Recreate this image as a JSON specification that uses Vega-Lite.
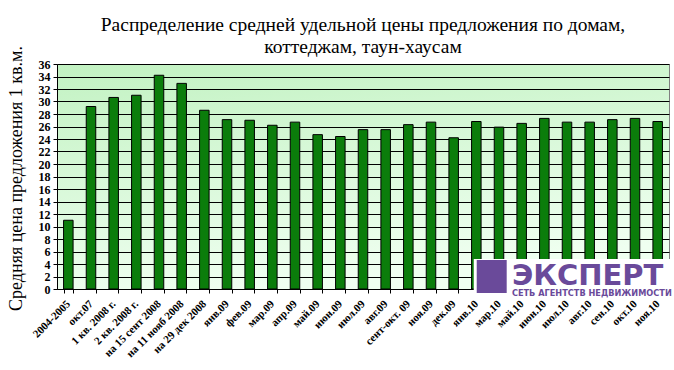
{
  "$schema": "https://vega.github.io/schema/vega-lite/v6.json",
  "width": 612,
  "height": 225,
  "autosize": {"type": "none"},
  "padding": {"left": 57, "top": 64, "right": 5, "bottom": 81},
  "background": "white",
  "title": {
    "text": ["Распределение средней удельной цены предложения по домам,", "коттеджам, таун-хаусам"],
    "font": "Liberation Serif, serif",
    "fontSize": 19.5,
    "fontWeight": "normal",
    "lineHeight": 22,
    "color": "black",
    "anchor": "middle",
    "offset": -12
  },
  "config": {
    "view": {
      "fill": {"gradient": "linear", "x1": 0, "y1": 0, "x2": 0.3, "y2": 1,
        "stops": [{"offset": 0, "color": "#c2f2c2"}, {"offset": 1, "color": "#effff0"}]},
      "stroke": "#808080",
      "strokeWidth": 1
    }
  },
  "resolve": {"axis": {"x": "independent", "y": "independent"}},
  "layer": [
    {
      "data": {
        "values": [
          {"period": "2004-2005", "price": 11.0},
          {"period": "окт.07", "price": 29.2},
          {"period": "1 кв. 2008 г.", "price": 30.65},
          {"period": "2 кв. 2008 г.", "price": 31.0},
          {"period": "на 15 сент 2008", "price": 34.2},
          {"period": "на 11 нояб 2008", "price": 32.9},
          {"period": "на 29 дек 2008", "price": 28.6},
          {"period": "янв.09", "price": 27.1},
          {"period": "фев.09", "price": 27.0},
          {"period": "мар.09", "price": 26.2},
          {"period": "апр.09", "price": 26.7},
          {"period": "май.09", "price": 24.7},
          {"period": "июн.09", "price": 24.4},
          {"period": "июл.09", "price": 25.5},
          {"period": "авг.09", "price": 25.5},
          {"period": "сент-окт. 09", "price": 26.3},
          {"period": "ноя.09", "price": 26.7},
          {"period": "дек.09", "price": 24.2},
          {"period": "янв.10", "price": 26.8},
          {"period": "мар.10", "price": 25.9},
          {"period": "май.10", "price": 26.5},
          {"period": "июн.10", "price": 27.3},
          {"period": "июл.10", "price": 26.7},
          {"period": "авг.10", "price": 26.7},
          {"period": "сен.10", "price": 27.1},
          {"period": "окт.10", "price": 27.3},
          {"period": "ноя.10", "price": 26.8}
        ]
      },
      "mark": {"type": "bar", "color": "#0b7d0b", "stroke": "black", "strokeWidth": 1},
      "encoding": {
        "x": {
          "field": "period", "type": "nominal", "sort": null, "title": null,
          "scale": {"paddingInner": 0.58, "paddingOuter": 0.29},
          "axis": {
            "labelAngle": -45, "labelAlign": "right", "labelBaseline": "middle",
            "labelFont": "Liberation Serif, serif", "labelFontSize": 11, "labelFontWeight": "bold",
            "labelColor": "black", "labelPadding": 9, "labelOverlap": false,
            "tickBand": "extent", "tickColor": "black", "tickSize": 4,
            "domainColor": "black", "grid": false
          }
        },
        "y": {
          "field": "price", "type": "quantitative",
          "title": "Средняя цена предложения 1 кв.м.",
          "scale": {"domain": [0, 36], "nice": false},
          "axis": {
            "values": [0,2,4,6,8,10,12,14,16,18,20,22,24,26,28,30,32,34,36],
            "labelOverlap": false,
            "labelFont": "Liberation Serif, serif", "labelFontSize": 12, "labelFontWeight": "bold",
            "labelColor": "black", "labelPadding": 3,
            "tickColor": "black", "tickSize": 4,
            "domainColor": "black",
            "grid": true, "gridColor": "black", "gridOpacity": 1, "gridWidth": 1,
            "titleFont": "Liberation Serif, serif", "titleFontSize": 18, "titleFontWeight": "normal",
            "titleColor": "black", "titleX": -41, "titleY": 114,
            "titleAngle": -90, "titleAlign": "center", "titleBaseline": "middle"
          }
        }
      }
    },
    {
      "data": {"values": [{"label": "logo"}]},
      "mark": {"type": "rect", "fill": "white", "xOffset": -2.6, "x2Offset": 16},
      "encoding": {
        "x": {"datum": "янв.10", "axis": null},
        "x2": {"datum": "ноя.10"},
        "y": {"datum": -1.7, "type": "quantitative", "axis": null},
        "y2": {"datum": 4.8}
      }
    },
    {
      "data": {"values": [{"label": "logo"}]},
      "mark": {"type": "rect", "fill": "#6a4a9a", "xOffset": 0.4, "x2Offset": 7.7},
      "encoding": {
        "x": {"datum": "янв.10", "axis": null},
        "x2": {"datum": "мар.10"},
        "y": {"datum": -0.64, "type": "quantitative", "axis": null},
        "y2": {"datum": 4.64}
      }
    },
    {
      "data": {"values": [{"label": "ЭКСПЕРТ"}]},
      "mark": {"type": "text", "font": "DejaVu Sans", "fontWeight": "bold", "fontSize": 29, "color": "#6a4a9a", "align": "left", "baseline": "alphabetic", "xOffset": 35.6},
      "encoding": {
        "text": {"field": "label"},
        "x": {"datum": "янв.10", "axis": null},
        "y": {"datum": 0.64, "type": "quantitative", "axis": null}
      }
    },
    {
      "data": {"values": [{"label": "СЕТЬ АГЕНТСТВ НЕДВИЖИМОСТИ"}]},
      "mark": {"type": "text", "font": "DejaVu Sans", "fontWeight": "bold", "fontSize": 8.2, "color": "#6a4a9a", "align": "left", "baseline": "alphabetic", "xOffset": 35.6},
      "encoding": {
        "text": {"field": "label"},
        "x": {"datum": "янв.10", "axis": null},
        "y": {"datum": -1.12, "type": "quantitative", "axis": null}
      }
    }
  ]
}
